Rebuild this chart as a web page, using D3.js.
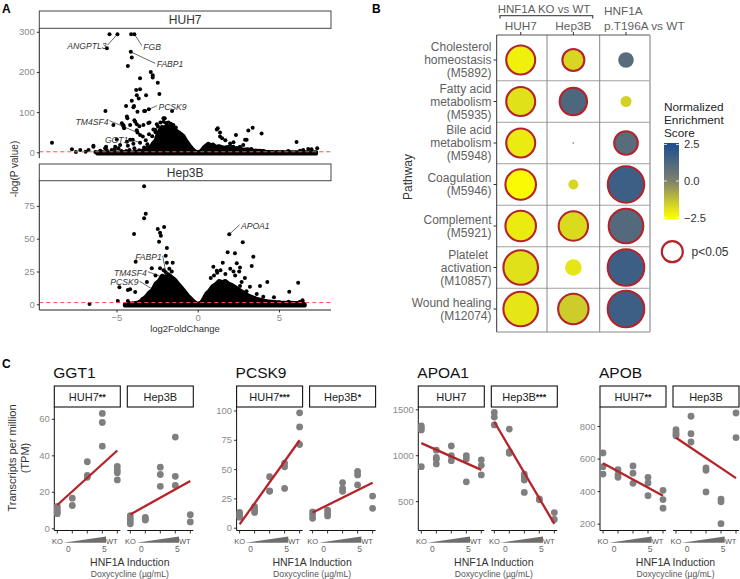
<!DOCTYPE html>
<html><head><meta charset="utf-8">
<script src="https://cdn.jsdelivr.net/npm/d3@7"></script>
<style>
body{margin:0;background:#fff}
svg{font-family:"Liberation Sans",Arial,Helvetica,sans-serif}
</style></head>
<body><svg id="c" width="740" height="579"></svg>
<script>
// ---------------- DATA ----------------
// Panel A: volcano points [log2FoldChange, -log(P)]
const huh7Points = [
[-5.43,294],[-4.94,294],[-5.59,259],[-4.10,294],[-3.90,294],[-4.12,250],[-4.06,236],[-4.30,215],
[-2.89,200],[-2.77,192],[-2.77,186],[-3.55,184],[-2.46,173],[-3.55,157],[-3.79,155],[-3.18,142],[-3.75,142],[-2.36,145],[-3.63,134],[-4.06,128],[-4.41,115],[-3.92,115],[-3.96,112],[-3.30,103],[-3.01,107],[-3.24,103],[-3.71,101],[-5.68,103],[-1.58,103],[-2.03,85],[-2.11,85],[-4.33,85],[-4.36,89],[-3.90,80],[-3.85,76],[-3.75,70],[-3.59,65],[-3.34,68],[-4.16,68],[-5.19,68],[-4.57,67],[-4.67,72],[-4.53,60],[-4.57,64],[-3.75,55],[-2.97,74],[-3.04,73],[-2.52,70],[-2.62,56],[-2.73,57],[-3.71,49],[-3.55,24],[-3.38,39],[-3.55,43],[-4.0,31],[-4.16,31],[-4.36,26],[-3.96,21],[-4.98,32],[-4.30,16],[-4.78,18],[-5.08,14],[-4.88,10],[-5.29,6],[-5.7,10],[-5.6,6],[-5.64,14],[-6.42,14],[-6.42,16],[-6.72,6],[-7.23,6],[-7.74,7.5],[-8.97,24],[-6.0,4],[-5.3,2],[-4.7,3],[-4.6,1],[-5.1,8],[-4.2,6],[-3.9,10],[-3.2,30],[-3.0,45],[-2.8,40],[-3.1,20],[-2.6,50],[-3.3,12],[-3.6,5],[-4.4,3],[-5.9,1],[-6.3,1],[-6.9,1.5],[-7.5,1],
[-2.3,74],[-2.1,76],[-1.95,73],[-1.8,74],[-1.65,71],[-1.5,68],[-1.35,62],[-2.45,64],[-2.2,58],
[1.17,57],[1.23,60],[1.37,49],[1.37,39],[2.35,43],[3.11,54],[3.38,61],[3.93,47],[3.01,31],[2.91,31],[2.8,18],[2.6,14],[2.4,10],[1.99,22],[2.09,14],[2.19,14],[6.08,25.6],[5.57,3],[5.63,1.5],[6.29,4],[6.39,1.5],[6.49,5.7],[6.8,8],[7.0,7.5],[7.35,10],[4.03,3],[4.34,1.5],[3.83,4],[3.63,3],[4.6,1],[4.9,0.5],[5.2,1],[3.3,8],[2.9,6],[2.2,25],[1.7,30],[1.5,35]
];
const hep3bPoints = [
[-3.3,90],[-3.2,69],[-3.3,65.5],[-3.92,53.6],[-2.07,59],[-2.46,57.4],[-2.32,54.6],[-2.27,52.3],[-2.38,47.7],[-1.9,43],[-3.82,32.5],[-1.97,37],[-1.9,31.7],[-1.54,31.7],[-2.32,27.4],[-2.83,27.4],[-3.13,17],[-4.16,11.4],[-4.3,10.9],[-3.85,9.4],[-4.82,13],[-4.92,2.5],[-6.66,0.2],[-4.3,2.5],[-4.22,0.8],[-2.73,12],[-2.52,15.5],[-1.97,24.4],[-2.1,26],[-1.75,27],[-1.6,25],[-2.2,20],[-2.9,7],[-3.4,4],[-3.6,2],[-3.0,3],[-2.6,22],
[1.94,53.3],[2.77,47.3],[1.84,39.6],[2.29,38.9],[3.42,36.3],[1.54,31.7],[2.4,31.2],[3.32,29.2],[2.6,28],[2.55,25],[2.0,27],[2.2,25],[2.3,22],[1.2,24],[1.4,26],[0.96,28.7],[1.17,25.6],[1.7,23],[2.9,20],[2.7,17],[3.21,13.4],[3.83,14],[4.28,17],[3.63,7.9],[4.03,5.8],[4.69,5.3],[5.02,1.5],[5.63,9.6],[5.7,1],[5.8,0.5],[5.6,2],[6.18,16.5],[6.29,2],[6.4,1],[6.3,0.3],[6.45,3],[4.5,1],[4.2,2.5],[3.9,3],[3.0,10],[2.6,14],[0.8,20],[1.0,22]
];
// upper edge of the dense point clouds [log2FC, -log(P)]
const huh7Envelope = [[-6.2,0],[-4.0,1],[-3.6,3],[-3.3,6],[-3.1,12],[-2.9,14],[-2.75,24],[-2.6,30],[-2.5,44],[-2.35,56],[-2.2,64],[-2.05,62],[-1.9,67],[-1.75,64],[-1.6,65],[-1.45,60],[-1.3,54],[-1.15,50],[-1.0,45],[-0.85,40],[-0.7,29],[-0.5,18],[-0.3,8],[-0.12,2],[0.05,0.5],[0.2,4],[0.35,12],[0.5,17],[0.65,22],[0.8,18],[0.95,20],[1.1,14],[1.3,16],[1.6,12],[1.9,14],[2.2,10],[2.5,11],[2.8,7],[3.1,8],[3.4,5],[3.8,4],[4.2,2],[4.6,1],[7.3,0.5]];
const hep3bEnvelope = [[-4.5,0],[-3.6,1.5],[-3.4,4],[-3.2,6],[-3.0,9],[-2.8,11],[-2.6,16],[-2.4,18],[-2.2,22],[-2.0,21],[-1.8,23],[-1.6,21],[-1.4,19],[-1.2,16],[-1.0,13],[-0.8,10],[-0.6,7],[-0.4,4.5],[-0.2,2],[0,0.5],[0.2,1.5],[0.35,4.5],[0.5,8],[0.7,10.5],[0.9,14],[1.1,15.5],[1.3,18],[1.5,17],[1.7,18],[1.9,16],[2.1,15],[2.35,13],[2.6,11],[2.85,9],[3.1,7],[3.6,4.5],[4.2,2.5],[5.0,1.5],[6.5,1],[6.6,0]];
const huh7Labels = [
 {gene:"ANGPTL3", p:[-4.94,294], dx:-11, dy:12, anchor:"end"},
 {gene:"FGB", p:[-3.90,294], dx:9, dy:12.5, anchor:"start"},
 {gene:"FABP1", p:[-4.12,250], dx:26, dy:12.6, anchor:"start"},
 {gene:"PCSK9", p:[-3.01,107], dx:9.6, dy:-2.6, anchor:"start"},
 {gene:"TM4SF4", p:[-3.71,49], dx:-29, dy:-11, anchor:"end"},
 {gene:"GGT1", p:[-3.55,24], dx:-11.7, dy:-2.5, anchor:"end"}
];
const hep3bLabels = [
 {gene:"APOA1", p:[1.94,53.3], dx:11.7, dy:-8.5, anchor:"start"},
 {gene:"FABP1", p:[-1.97,24.4], dx:-4, dy:-15.5, anchor:"end"},
 {gene:"TM4SF4", p:[-1.9,19.5], dx:-20, dy:-6, anchor:"end"},
 {gene:"PCSK9", p:[-2.6,10], dx:-17, dy:-9, anchor:"end"}
];
const volcanoXTicks = [-5, 0, 5];
const huh7YTicks = [0, 100, 200, 300];
const hep3bYTicks = [0, 25, 50, 75];

// Panel B
const pathways = ["Cholesterol|homeostasis|(M5892)","Fatty acid|metabolism|(M5935)","Bile acid|metabolism|(M5948)","Coagulation|(M5946)","Complement|(M5921)","Platelet |activation|(M10857)","Wound healing|(M12074)"];
const comparisons = ["HUH7","Hep3B","T196A"];
const nesValues = [[-2.2,-1.7,1.0],[-1.9,1.3,-1.6],[-2.1,0.0,1.0],[-2.4,-1.7,1.7],[-2.1,-1.8,1.1],[-1.9,-2.0,1.7],[-2.0,-1.5,1.7]];
const dotSizes = [[6.45,3.87,1.63],[6.45,5.8,0.81],[6.45,0.02,4.4],[7.13,0.67,9.9],[7.13,6.6,9.0],[9.0,1.85,10],[9.0,7.05,10]];
const significant = [[1,1,0],[1,1,0],[1,0,1],[1,0,1],[1,1,1],[1,0,1],[1,1,1]];
const nesTicks = [2.5, 0.0, -2.5];

// Panel C: TPM values by position (KO, dox 0, dox mid, dox 5, WT)
const positions = [1,2,3,4,5];
const ggt1HUH7 = [[12,10.5,9,8],[16.5,12.5],[36.5,29,28],[63,58,45],[34,32,30.5,26.5]];
const ggt1Hep3B = [[7,5.5,4,2.5],[6,5,4.5],[33.5,29.5,23],[50,28.5,23.5],[7.5,3.5]];
const pcsk9HUH7 = [[13,11,9],[18,15,13],[43.5,31.5,31],[55,52,33.5],[98,86,71]];
const pcsk9Hep3B = [[13.5,11,8],[15,12.5,10],[38.5,33.5,31],[48,45,36.5],[27,16.5]];
const apoa1HUH7 = [[1320,1295,1275,875],[1055,975,955,905],[1100,995,940],[995,960,710],[950,890,785]];
const apoa1Hep3B = [[1465,1415,1330],[1285,1040,1020],[795,765,730,595],[525,515],[375,300]];
const apobHUH7 = [[635,550,505],[532,500,485],[555,510,448],[485,450,372],[405,348,295]];
const apobHep3B = [[778,763,750,740],[860,753,702],[542,528,395],[350,334,200],[880,729]];
const genes = ["GGT1","PCSK9","APOA1","APOB"];
const geneTicks = [[0,20,40,60],[0,25,50,75,100],[500,1000,1500],[200,400,600,800]];
const geneYDomains = [[-1.2,66.5],[-2.4,103],[180,1525],[158,917]];
const stripLabels = [["HUH7","**","Hep3B",""],["HUH7","***","Hep3B","*"],["HUH7","","Hep3B","***"],["HUH7","**","Hep3B",""]];
const geneData = [[ggt1HUH7,ggt1Hep3B],[pcsk9HUH7,pcsk9Hep3B],[apoa1HUH7,apoa1Hep3B],[apobHUH7,apobHep3B]];

// ---------------- DRAW ----------------
const svg = d3.select("#c");
function txt(x,y,s,o={}){
  const t = svg.append("text").attr("x",x).attr("y",y).text(s)
    .attr("font-size",o.size||10).attr("fill",o.fill||"#333").attr("text-anchor",o.anchor||"start");
  if(o.weight) t.attr("font-weight",o.weight);
  if(o.style) t.attr("font-style",o.style);
  if(o.rotate) t.attr("transform",`rotate(-90,${x},${y})`);
  return t;
}
txt(2,13,"A",{size:12,weight:"bold",fill:"#000"});
txt(372,13,"B",{size:12,weight:"bold",fill:"#000"});
txt(2,368,"C",{size:12,weight:"bold",fill:"#000"});

// ---- Panel A ----
const vL = 39.3, vR = 331;
const vx = d3.scaleLinear().domain([-9.75, 8.2]).range([vL, vR]);
function volcano(o){
  const y = d3.scaleLinear().domain(o.yDomain).range([o.bottom, o.top]);
  svg.append("rect").attr("x",vL).attr("y",o.stripTop).attr("width",vR-vL).attr("height",o.top-o.stripTop)
    .attr("fill","#fff").attr("stroke","#444").attr("stroke-width",1);
  txt((vL+vR)/2, o.stripTop+(o.top-o.stripTop)/2+4.3, o.name,{size:12,anchor:"middle",fill:"#333"});
  // dense cloud
  svg.append("path").datum(o.envelope)
    .attr("d", d3.area().x(d=>vx(d[0])).y0(y(0)+1.5).y1(d=>y(d[1])))
    .attr("fill","#000").attr("stroke","#000").attr("stroke-width",3.5).attr("stroke-linejoin","round");
  svg.append("g").selectAll("circle").data(o.points).join("circle")
    .attr("cx",d=>vx(d[0])).attr("cy",d=>y(d[1])).attr("r",2).attr("fill","#000");
  // labels
  o.labels.forEach(l=>{
    const px = vx(l.p[0]), py = y(l.p[1]);
    const tx = px + l.dx, ty = py + l.dy;
    const lx = l.anchor==="end" ? tx+1 : tx-1.5;
    svg.append("line").attr("x1",px).attr("y1",py).attr("x2",lx).attr("y2",ty-1)
      .attr("stroke","#000").attr("stroke-width",0.6);
    txt(tx, ty+3, l.gene, {size:8.6, style:"italic", anchor:l.anchor, fill:"#333"});
  });
  // threshold
  svg.append("line").attr("x1",vL).attr("x2",vR).attr("y1",y(1.3)).attr("y2",y(1.3))
    .attr("stroke","#ff4d4d").attr("stroke-width",1).attr("stroke-dasharray","4,3");
  // y axis
  const ga = svg.append("g").attr("transform",`translate(${vL},0)`)
    .call(d3.axisLeft(y).tickValues(o.ticks).tickSize(2.5).tickPadding(2).tickSizeOuter(0).tickFormat(d3.format("d")));
  ga.select(".domain").remove();
  ga.selectAll("line").attr("stroke","#333");
  ga.selectAll("text").attr("font-size",9.5).attr("fill","#8a8a8a").attr("font-family",null);
  svg.append("line").attr("x1",vL).attr("x2",vL).attr("y1",o.top).attr("y2",o.bottom).attr("stroke","#222").attr("stroke-width",1);
  return y;
}
volcano({name:"HUH7", stripTop:11, top:28.3, bottom:158.2, yDomain:[-14.7,308.6], ticks:huh7YTicks, points:huh7Points, envelope:huh7Envelope, labels:huh7Labels});
volcano({name:"Hep3B", stripTop:164, top:180.7, bottom:310, yDomain:[-4.35,94.2], ticks:hep3bYTicks, points:hep3bPoints, envelope:hep3bEnvelope, labels:hep3bLabels});
{
  const gx = svg.append("g").attr("transform","translate(0,310)")
    .call(d3.axisBottom(vx).tickValues(volcanoXTicks).tickSize(2.5).tickPadding(1.5).tickSizeOuter(0).tickFormat(d=>d<0?"\u2212"+Math.abs(d):d));
  gx.select(".domain").remove();
  gx.selectAll("line").attr("stroke","#333");
  gx.selectAll("text").attr("font-size",9.5).attr("fill","#8a8a8a").attr("font-family",null);
  svg.append("line").attr("x1",vL).attr("x2",vR).attr("y1",310).attr("y2",310).attr("stroke","#222");
  txt(185,331.5,"log2FoldChange",{size:9.5,anchor:"middle",fill:"#333"});
  txt(17.5,169,"-log(P value)",{size:10,anchor:"middle",fill:"#333",rotate:true});
}

// ---- Panel B ----
const bx = d3.scalePoint().domain(comparisons).range([520.7, 626]);
const by = d3.scalePoint().domain(pathways).range([60, 309]);
const rScale = d3.scaleSqrt().domain([0,10]).range([0,19.3]);
const nesColor = d3.scaleLinear().domain([-2.5,0,2.5]).range(["#ffff00","#80806c","#1d4f91"]).clamp(true);
const bLeft=496.7, bRight=650, bTop=35, bBottom=332;
const colMid = [(bx("HUH7")+bx("Hep3B"))/2, (bx("Hep3B")+bx("T196A"))/2];
pathways.slice(0,-1).forEach((p,i)=>{
  const yy=(by(p)+by(pathways[i+1]))/2;
  svg.append("line").attr("x1",bLeft).attr("x2",bRight).attr("y1",yy).attr("y2",yy).attr("stroke","#a0a0a0").attr("stroke-width",1);
});
colMid.forEach(xx=>svg.append("line").attr("x1",xx).attr("x2",xx).attr("y1",bTop).attr("y2",bBottom).attr("stroke","#888").attr("stroke-width",1));
svg.append("line").attr("x1",bLeft).attr("x2",bRight).attr("y1",bTop).attr("y2",bTop).attr("stroke","#555");
svg.append("line").attr("x1",bLeft).attr("x2",bRight).attr("y1",bBottom).attr("y2",bBottom).attr("stroke","#888");
svg.append("line").attr("x1",bRight).attr("x2",bRight).attr("y1",bTop).attr("y2",bBottom).attr("stroke","#aaa").attr("stroke-width",1.6);
svg.append("line").attr("x1",bLeft).attr("x2",bLeft).attr("y1",bTop).attr("y2",bBottom).attr("stroke","#333");
const dots=[];
pathways.forEach((p,i)=>comparisons.forEach((c,j)=>dots.push({p,c,nes:nesValues[i][j],size:dotSizes[i][j],sig:significant[i][j]})));
svg.append("g").selectAll("circle").data(dots).join("circle")
  .attr("cx",d=>bx(d.c)).attr("cy",d=>by(d.p)).attr("r",d=>Math.max(0.6, rScale(d.size)-(d.sig?1:0)))
  .attr("fill",d=>nesColor(d.nes)).attr("stroke",d=>d.sig?"#b5232a":"none").attr("stroke-width",2.1);
pathways.forEach(p=>{
  const lines=p.split("|"), c=by(p);
  lines.forEach((s,k)=>{
    const yy = c + (k-(lines.length-1)/2)*13 + 4;
    txt(491.5, yy, s, {size:12, anchor:"end", fill:"#5f5f5f"}).style("white-space","pre");
  });
  svg.append("line").attr("x1",493.5).attr("x2",bLeft).attr("y1",c).attr("y2",c).attr("stroke","#333");
});
txt(412,177,"Pathway",{size:12,anchor:"middle",fill:"#333",rotate:true});
comparisons.forEach(c=>svg.append("line").attr("x1",bx(c)).attr("x2",bx(c)).attr("y1",32).attr("y2",bTop).attr("stroke","#333"));
txt(bx("HUH7"),30,"HUH7",{size:11.8,anchor:"middle",fill:"#5f5f5f"});
txt(bx("Hep3B"),30,"Hep3B",{size:11.8,anchor:"middle",fill:"#5f5f5f"});
txt(604,15,"HNF1A",{size:11.8,fill:"#5f5f5f"});
txt(604,30,"p.T196A vs WT",{size:11.8,fill:"#5f5f5f"});
txt(544,12.5,"HNF1A KO vs WT",{size:11.5,anchor:"middle",fill:"#5f5f5f"});
svg.append("path").attr("d","M500,18.5V15.7H592.7V18.5").attr("fill","none").attr("stroke","#555").attr("stroke-width",1.3);
// legend
txt(664,110.5,"Normalized",{size:11.8,fill:"#222"});
txt(664,123.6,"Enrichment",{size:11.8,fill:"#222"});
txt(664,136.7,"Score",{size:11.8,fill:"#222"});
const cbTop=143, cbBot=219, cbX=664, cbW=15;
const cbY = d3.scaleLinear().domain([-2.6,2.6]).range([cbBot,cbTop]);
const grad = svg.append("defs").append("linearGradient").attr("id","cb").attr("x1",0).attr("y1",1).attr("x2",0).attr("y2",0);
d3.range(0,1.0001,0.1).forEach(t=>grad.append("stop").attr("offset",t).attr("stop-color",nesColor(-2.6+5.2*t)));
svg.append("rect").attr("x",cbX).attr("y",cbTop).attr("width",cbW).attr("height",cbBot-cbTop).attr("fill","url(#cb)");
nesTicks.forEach(v=>{
  const yy=cbY(v);
  svg.append("line").attr("x1",cbX).attr("x2",cbX+3).attr("y1",yy).attr("y2",yy).attr("stroke","#fff").attr("stroke-width",0.8);
  svg.append("line").attr("x1",cbX+cbW-3).attr("x2",cbX+cbW).attr("y1",yy).attr("y2",yy).attr("stroke","#fff").attr("stroke-width",0.8);
  txt(cbX+cbW+5, yy+4, v<0?"\u2212"+Math.abs(v).toFixed(1):v.toFixed(1), {size:11.2,fill:"#333"});
});
svg.append("circle").attr("cx",672.3).attr("cy",251.7).attr("r",10.5).attr("fill","#fff").attr("stroke","#b5232a").attr("stroke-width",2.2);
txt(691.5,256,"p<0.05",{size:12,fill:"#333"});

// ---- Panel C ----
const geneLeft = [54.3, 236.6, 418.3, 600];
const facetGap = 73, panelW = 66, pTop = 407, pBot = 530.5;
function lm(pts){
  const mx=d3.mean(pts,d=>d[0]), my=d3.mean(pts,d=>d[1]);
  let sxy=0,sxx=0; pts.forEach(d=>{sxy+=(d[0]-mx)*(d[1]-my); sxx+=(d[0]-mx)**2;});
  const b=sxy/sxx; return {a:my-b*mx,b};
}
genes.forEach((g,gi)=>{
  const left = geneLeft[gi];
  const y = d3.scaleLinear().domain(geneYDomains[gi]).range([pBot,pTop]);
  txt(left-1, 378, g, {size:15.5, fill:"#111"});
  const ga = svg.append("g").attr("transform",`translate(${left},0)`)
    .call(d3.axisLeft(y).tickValues(geneTicks[gi]).tickSize(2.5).tickPadding(2).tickSizeOuter(0).tickFormat(d3.format("d")));
  ga.select(".domain").remove();
  ga.selectAll("line").attr("stroke","#333");
  ga.selectAll("text").attr("font-size",9.5).attr("fill","#8a8a8a").attr("font-family",null);
  svg.append("line").attr("x1",left).attr("x2",left).attr("y1",pTop).attr("y2",pBot).attr("stroke","#111");
  [0,1].forEach(f=>{
    const L = left + f*facetGap;
    const x = d3.scaleLinear().domain([0.8,5.2]).range([L, L+panelW]);
    svg.append("rect").attr("x",L).attr("y",386).attr("width",panelW).attr("height",pTop-386)
      .attr("fill","#fff").attr("stroke","#111").attr("stroke-width",1.1);
    const st = txt(L+panelW/2, 401, stripLabels[gi][f*2], {size:11, anchor:"middle", fill:"#222"});
    if(stripLabels[gi][f*2+1]) st.append("tspan").text(stripLabels[gi][f*2+1]).attr("font-weight","bold").attr("font-size",9).attr("dy",-1.5);
    const pts=[];
    geneData[gi][f].forEach((vals,k)=>vals.forEach(v=>pts.push([positions[k],v])));
    svg.append("g").selectAll("circle").data(pts).join("circle")
      .attr("cx",d=>x(d[0])).attr("cy",d=>y(d[1])).attr("r",3.4).attr("fill","#7f7f7f");
    const fit = lm(pts);
    svg.append("line").attr("x1",x(1)).attr("x2",x(5)).attr("y1",y(fit.a+fit.b)).attr("y2",y(fit.a+5*fit.b))
      .attr("stroke","#b5232a").attr("stroke-width",2.3);
    svg.append("line").attr("x1",L).attr("x2",L+panelW).attr("y1",pBot).attr("y2",pBot).attr("stroke","#111");
    positions.forEach(p=>svg.append("line").attr("x1",x(p)).attr("x2",x(p)).attr("y1",pBot).attr("y2",pBot+3).attr("stroke","#333"));
    txt(x(1), 543.5, "KO", {size:7.5, anchor:"middle", fill:"#555"});
    txt(x(5)-5.5, 543.5, "WT", {size:7.5, anchor:"middle", fill:"#555"});
    svg.append("path").attr("d",`M${L+9},542.7L${L+51.7},536.6L${L+51.7},542.7Z`).attr("fill","#6e6e6e");
    txt(L+14, 551.5, "0", {size:8.5, anchor:"middle", fill:"#666"});
    txt(L+50, 551.5, "5", {size:8.5, anchor:"middle", fill:"#666"});
  });
  txt(left+75.5, 566.3, "HNF1A Induction", {size:10.5, anchor:"middle", fill:"#333"});
  txt(left+75.5, 577.3, "Doxycycline (\u00b5g/mL)", {size:8.6, anchor:"middle", fill:"#555"});
});
txt(15.5,458,"Transcripts per million",{size:11,anchor:"middle",fill:"#333",rotate:true});
txt(29,458,"(TPM)",{size:11,anchor:"middle",fill:"#333",rotate:true});
</script></body></html>
